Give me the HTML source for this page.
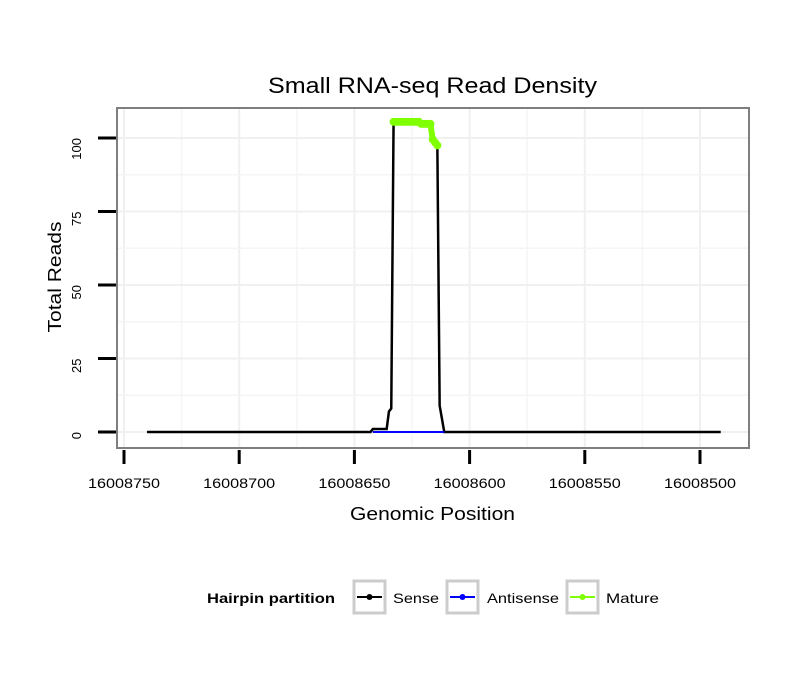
<!DOCTYPE html>
<html><head><meta charset="utf-8"><style>
body{margin:0;background:#fff;font-family:"Liberation Sans",sans-serif}
svg text{font-family:"Liberation Sans",sans-serif}
</style></head><body>
<svg id="c" width="810" height="690">
<rect x="0" y="0" width="810" height="690" fill="#fff"/>
<text x="268" y="93" font-size="22" textLength="329" lengthAdjust="spacingAndGlyphs">Small RNA-seq Read Density</text>
<g id="grid"></g>
<g id="series"></g>
<rect x="117" y="108" width="632" height="340" fill="none" stroke="#7f7f7f" stroke-width="2"/>
<g id="axes"></g>
<text x="350" y="520" font-size="18" textLength="165" lengthAdjust="spacingAndGlyphs">Genomic Position</text>
<text x="0" y="0" font-size="18" text-anchor="middle" transform="translate(61,277) rotate(-90)" textLength="111" lengthAdjust="spacingAndGlyphs">Total Reads</text>
<g>
<text x="207" y="603" font-size="14" font-weight="bold" textLength="128" lengthAdjust="spacingAndGlyphs">Hairpin partition</text>
<g>
<rect x="354" y="581" width="31" height="32" fill="#fff" stroke="#cccccc" stroke-width="3"/>
<line x1="357" y1="597" x2="382" y2="597" stroke="#000" stroke-width="2"/><circle cx="369.5" cy="597" r="3" fill="#000"/>
<text x="393" y="603" font-size="14" textLength="46" lengthAdjust="spacingAndGlyphs">Sense</text></g>
<g>
<rect x="447" y="581" width="31" height="32" fill="#fff" stroke="#cccccc" stroke-width="3"/>
<line x1="450" y1="597" x2="475" y2="597" stroke="#0000ff" stroke-width="2"/><circle cx="462.5" cy="597" r="3" fill="#0000ff"/>
<text x="487" y="603" font-size="14" textLength="72" lengthAdjust="spacingAndGlyphs">Antisense</text></g>
<g>
<rect x="567" y="581" width="31" height="32" fill="#fff" stroke="#cccccc" stroke-width="3"/>
<line x1="570" y1="597" x2="595" y2="597" stroke="#7fff00" stroke-width="2"/><circle cx="582.5" cy="597" r="3" fill="#7fff00"/>
<text x="606" y="603" font-size="14" textLength="53" lengthAdjust="spacingAndGlyphs">Mature</text></g>
</g>
</svg>
<script>
const xTicks=[16008750,16008700,16008650,16008600,16008550,16008500];
const yTicks=[0,25,50,75,100];
const sensePos=[16008740,16008643,16008642,16008636,16008635,16008634,16008633,16008622,16008621,16008617,16008616,16008615,16008614,16008613,16008611,16008491];
const senseVal=[0,0,1,1,7,8,105.5,105.5,104.8,104.8,99.5,98.5,97.5,9,0,0];
const antiPos=[16008642,16008611];
const antiVal=[0,0];
const maturePos=[16008633,16008632,16008631,16008630,16008629,16008628,16008627,16008626,16008625,16008624,16008623,16008622,16008621,16008620,16008619,16008618,16008617,16008616,16008615,16008614];
const matureVal=[105.5,105.5,105.5,105.5,105.5,105.5,105.5,105.5,105.5,105.5,105.5,105.5,104.8,104.8,104.8,104.8,104.8,99.5,98.5,97.5];
const X=v=>124+(16008750-v)*2.304;
const Y=v=>432-v*2.94;
const NS="http://www.w3.org/2000/svg";
function mk(t,a,p){const e=document.createElementNS(NS,t);for(const k in a)e.setAttribute(k,a[k]);p.appendChild(e);return e;}
const grid=document.getElementById('grid'),axes=document.getElementById('axes'),ser=document.getElementById('series');
for(let i=0;i<xTicks.length;i++){
 const x=X(xTicks[i]);
 const g=mk('line',{x1:x,x2:x,y1:108,y2:448,stroke:'#f0f0f0','stroke-width':2},grid);
 
 if(i<xTicks.length-1){const xm=X((xTicks[i]+xTicks[i+1])/2);mk('line',{x1:xm,x2:xm,y1:108,y2:448,stroke:'#f5f5f5','stroke-width':1.5},grid);}
 const t=mk('line',{x1:x,x2:x,y1:450,y2:464,stroke:'#000','stroke-width':3},axes);
 
 const l=mk('text',{x:x,y:488,'font-size':14,'text-anchor':'middle',textLength:72,lengthAdjust:'spacingAndGlyphs'},axes);l.textContent=xTicks[i];
 
}
for(let i=0;i<yTicks.length;i++){
 const y=Y(yTicks[i]);
 const g=mk('line',{x1:117,x2:749,y1:y,y2:y,stroke:'#f0f0f0','stroke-width':2},grid);
 
 const ym=Y(yTicks[i]+12.5);if(ym>108)mk('line',{x1:117,x2:749,y1:ym,y2:ym,stroke:'#f5f5f5','stroke-width':1.5},grid);
 const t=mk('line',{x1:98,x2:116,y1:y,y2:y,stroke:'#000','stroke-width':3},axes);
 
 const l=mk('text',{x:0,y:0,'font-size':13,'text-anchor':'end',transform:`translate(81,${y}) rotate(-90)`},axes);l.textContent=yTicks[i];
 
}
const pts=(P,V)=>P.map((p,i)=>X(p)+','+Y(V[i])).join(' ');
const s=mk('polyline',{points:pts(sensePos,senseVal),fill:'none',stroke:'#000','stroke-width':2.5},ser);

const a=mk('polyline',{points:pts(antiPos,antiVal),fill:'none',stroke:'#0000ff','stroke-width':2},ser);

const m=mk('polyline',{points:pts(maturePos,matureVal),fill:'none',stroke:'#7fff00','stroke-width':6,'stroke-linejoin':'round','stroke-linecap':'round'},ser);

maturePos.forEach((p,i)=>{const c=mk('circle',{cx:X(p),cy:Y(matureVal[i]),r:4,fill:'#7fff00'},ser);
 });
</script>
</body></html>
